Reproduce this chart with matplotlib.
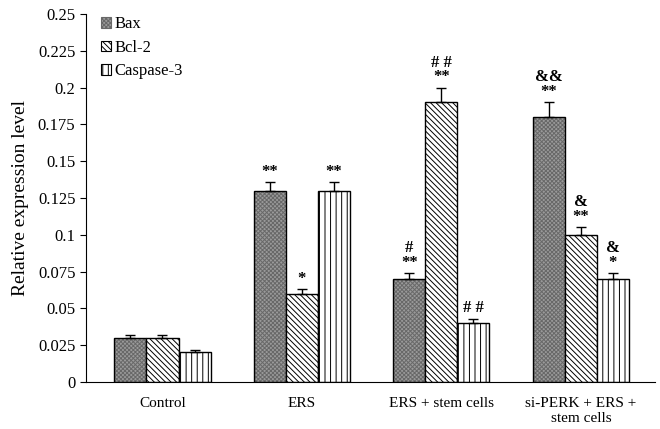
import matplotlib.pyplot as plt
import numpy as np

plt.rcParams['font.family'] = ['Liberation Serif', 'DejaVu Serif']
plt.rcParams['hatch.linewidth'] = 0.7

groups = ['Control', 'ERS', 'ERS + stem cells', 'si-PERK + ERS +\nstem cells']
series = ['Bax', 'Bcl-2', 'Caspase-3']
bax = [0.03, 0.13, 0.07, 0.18]
bcl2 = [0.03, 0.06, 0.19, 0.10]
casp3 = [0.02, 0.13, 0.04, 0.07]
bax_err = [0.002, 0.006, 0.004, 0.01]
bcl2_err = [0.002, 0.003, 0.01, 0.005]
casp3_err = [0.0015, 0.006, 0.003, 0.004]
bax_sig = ['', '**', '#\n**', '&&\n**']
bcl2_sig = ['', '*', '# #\n**', '&\n**']
casp3_sig = ['', '**', '# #', '&\n*']

fig = plt.figure(figsize=(6.6, 4.29), dpi=100)
ax = fig.add_axes([0.130, 0.110, 0.862, 0.857])

x = np.arange(len(groups))
w = 0.23
# (face colour, hatch colour, hatch)
styles = [('#9a9a9a', '#686868', 'xxxxxxxx'), ('white', 'black', '\\\\\\\\\\\\'),
          ('white', 'black', '|||')]
data = [(bax, bax_err, bax_sig), (bcl2, bcl2_err, bcl2_sig), (casp3, casp3_err, casp3_sig)]

handles = []
for i, (vals, errs, sigs) in enumerate(data):
    pos = x + (i - 1) * w
    fc, hc, hatch = styles[i]
    ax.bar(pos, vals, w, color=fc, edgecolor=hc, hatch=hatch, linewidth=0, zorder=2)
    ax.bar(pos, vals, w, fill=False, edgecolor='black', linewidth=1.0, zorder=2)
    handles.append(plt.Rectangle((0, 0), 1, 1, facecolor=fc, edgecolor=hc, hatch=hatch,
                                 linewidth=0.8))
    ax.errorbar(pos, vals, yerr=[np.zeros(len(vals)), errs], fmt='none',
                ecolor='black', elinewidth=1.0, capsize=3.5, capthick=1.0, zorder=3)
    for p, v, e, s in zip(pos, vals, errs, sigs):
        if s:
            ax.text(p, v + e + 0.0015, s, ha='center', va='bottom', fontsize=12,
                    linespacing=0.9, fontweight='bold')

ax.set_xlim(-0.55, 3.53)
ax.set_ylim(0, 0.25)
yt = np.arange(0, 0.2501, 0.025)
ax.set_yticks(yt)
ax.set_yticklabels(['0', '0.025', '0.05', '0.075', '0.1', '0.125', '0.15', '0.175',
                    '0.2', '0.225', '0.25'], fontsize=12)
ax.set_xticks(x)
ax.set_xticklabels(groups, fontsize=11, linespacing=1.15, va='top')
ax.tick_params(axis='x', length=0, pad=11)
ax.tick_params(axis='y', direction='out', length=4)
ax.set_ylabel('Relative expression level', fontsize=14, labelpad=6)
for sp in ['top', 'right']:
    ax.spines[sp].set_visible(False)

ax.legend(handles, series, loc='upper left', bbox_to_anchor=(0.0, 1.035), frameon=False,
          fontsize=12, handlelength=0.6, handleheight=0.6, handletextpad=0.2,
          labelspacing=0.45)

fig.savefig('out.png', dpi=100)
